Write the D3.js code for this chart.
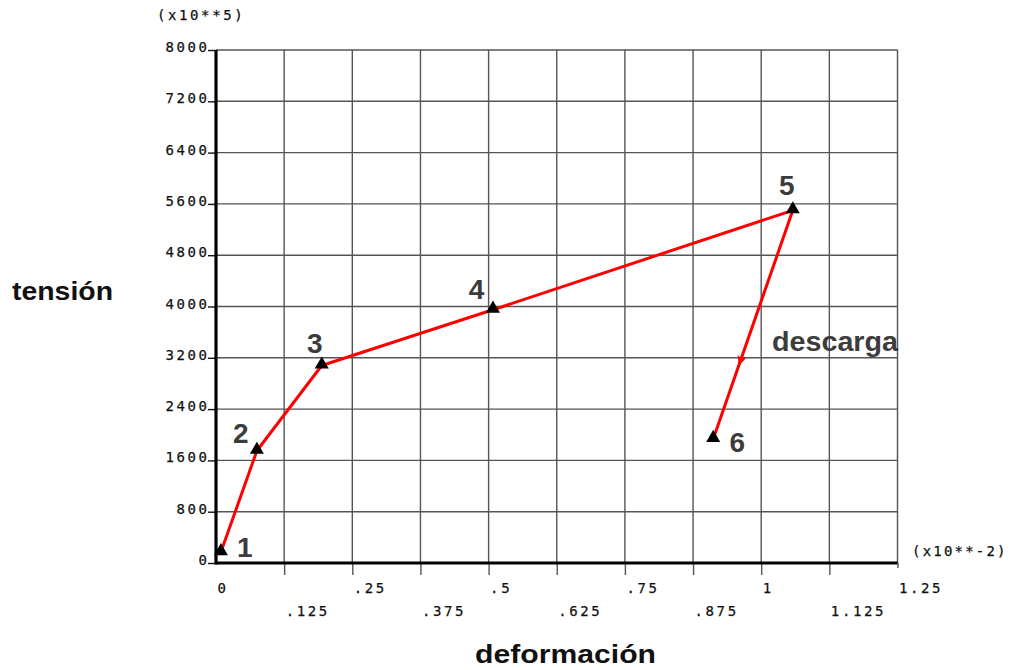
<!DOCTYPE html>
<html>
<head>
<meta charset="utf-8">
<script src="https://cdn.jsdelivr.net/npm/d3@7"></script>
<style>
  html, body { margin: 0; padding: 0; background: #fff; }
  svg { display: block; }
</style>
</head>
<body>
<svg id="chart" width="1015" height="670"></svg>
<script>
// ---- data ----
const xTicks = [0, 0.125, 0.25, 0.375, 0.5, 0.625, 0.75, 0.875, 1, 1.125, 1.25];
const xTickLabels = ["0", ".125", ".25", ".375", ".5", ".625", ".75", ".875", "1", "1.125", "1.25"];
const yTicks = [0, 800, 1600, 2400, 3200, 4000, 4800, 5600, 6400, 7200, 8000];
const yTickLabels = ["0", "800", "1600", "2400", "3200", "4000", "4800", "5600", "6400", "7200", "8000"];
const strain = [0.009, 0.075, 0.194, 0.508, 1.058, 0.912];   // x10**-2
const stress = [170, 1750, 3080, 3950, 5500, 1935];         // x10**5
const pointNames = ["1", "2", "3", "4", "5", "6"];
const xUnit = "(x10**-2)";
const yUnit = "(x10**5)";
const xTitle = "deformación";
const yTitle = "tensión";
const unloadLabel = "descarga";

// ---- layout ----
const svg = d3.select("#chart");
const x = d3.scaleLinear().domain([0, 1.25]).range([216, 897.5]);
const y = d3.scaleLinear().domain([0, 8000]).range([563, 50]);
const monoFont = "DejaVu Sans Mono, monospace";
const monoSize = 14;
const monoSpacing = "2.6px";
const gridColor = "#555";

function monoStyle(sel) {
  sel.attr("font-family", monoFont).attr("font-size", monoSize)
    .attr("letter-spacing", monoSpacing).attr("fill", "#111")
    .attr("stroke", "#111").attr("stroke-width", 0.25);
}

// grid
svg.append("g").selectAll("line.v").data(xTicks.slice(1)).join("line")
  .attr("x1", d => x(d)).attr("x2", d => x(d))
  .attr("y1", y(8000)).attr("y2", y(0))
  .attr("stroke", gridColor).attr("stroke-width", 1.4);
svg.append("g").selectAll("line.h").data(yTicks.slice(1)).join("line")
  .attr("x1", x(0)).attr("x2", x(1.25))
  .attr("y1", d => y(d)).attr("y2", d => y(d))
  .attr("stroke", gridColor).attr("stroke-width", 1.4);

// x axis
const gx = svg.append("g").attr("transform", `translate(0,${y(0)})`)
  .call(d3.axisBottom(x).tickValues(xTicks).tickFormat((d, i) => xTickLabels[i]).tickSize(12).tickSizeOuter(0));
gx.select(".domain").remove();
gx.selectAll(".tick line").attr("stroke", gridColor).attr("stroke-width", 1.4)
  .attr("display", (d, i) => i === 0 ? "none" : null)
  .attr("y2", (d, i) => i === xTicks.length - 1 ? 5 : 12);
gx.selectAll(".tick text")
  .attr("text-anchor", "start").attr("x", 1).attr("dy", 0)
  .attr("y", (d, i) => i % 2 === 0 ? 30 : 53)
  .call(monoStyle);

// y axis
const gy = svg.append("g").attr("transform", `translate(${x(0)},0)`)
  .call(d3.axisLeft(y).tickValues(yTicks).tickFormat((d, i) => yTickLabels[i]).tickSize(8).tickSizeOuter(0));
gy.select(".domain").remove();
gy.selectAll(".tick line").attr("stroke", "#111").attr("stroke-width", 1.4);
gy.selectAll(".tick text")
  .attr("x", -6.5).attr("dy", 0).attr("y", 1.5)
  .call(monoStyle);

// thick axis lines
svg.append("line").attr("x1", x(0)).attr("x2", x(1.25)).attr("y1", y(0)).attr("y2", y(0))
  .attr("stroke", "#000").attr("stroke-width", 3.2);
svg.append("line").attr("x1", x(0)).attr("x2", x(0)).attr("y1", y(8000)).attr("y2", y(0) + 1.6)
  .attr("stroke", "#000").attr("stroke-width", 3.2);

// unit labels
svg.append("text").attr("x", 157).attr("y", 20).text(yUnit).call(monoStyle);
svg.append("text").attr("x", 912).attr("y", 556).text(xUnit).call(monoStyle)
  .attr("letter-spacing", "2.2px");

// data line
const pts = strain.map((s, i) => [s, stress[i]]);
svg.append("path").datum(pts)
  .attr("d", d3.line().x(d => x(d[0])).y(d => y(d[1])))
  .attr("fill", "none").attr("stroke", "#ff0000").attr("stroke-width", 3)
  .attr("stroke-linejoin", "round");

// arrow on unloading segment
{
  const a = pts[4], b = pts[5];
  const t = 0.66;
  const px = x(a[0]) + (x(b[0]) - x(a[0])) * t;
  const py = y(a[1]) + (y(b[1]) - y(a[1])) * t;
  const ang = Math.atan2(y(b[1]) - y(a[1]), x(b[0]) - x(a[0])) * 180 / Math.PI;
  svg.append("path").attr("d", "M5,0 L-5,-4.5 L-3,0 L-5,4.5 Z")
    .attr("transform", `translate(${px},${py}) rotate(${ang})`)
    .attr("fill", "#ff0000");
}

// markers
svg.append("g").selectAll("path").data(pts).join("path")
  .attr("d", d3.symbol(d3.symbolTriangle, 85))
  .attr("transform", d => `translate(${x(d[0])},${y(d[1]) - 1})`)
  .attr("fill", "#000");

// point labels
const labelOffsets = [[24, 5], [-16, -8], [-7, -12], [-16.5, -11], [-6, -15], [24, 13]];
svg.append("g").selectAll("text").data(pts).join("text")
  .attr("x", (d, i) => x(d[0]) + labelOffsets[i][0])
  .attr("y", (d, i) => y(d[1]) + labelOffsets[i][1])
  .attr("text-anchor", "middle")
  .attr("font-family", "Liberation Sans, Arial, sans-serif")
  .attr("font-weight", "bold").attr("font-size", 28).attr("fill", "#3c3c3c")
  .text((d, i) => pointNames[i]);

svg.append("text").attr("x", 772).attr("y", 351).text(unloadLabel)
  .attr("font-family", "Liberation Sans, Arial, sans-serif")
  .attr("font-weight", "bold").attr("font-size", 27).attr("fill", "#3c3c3c")
  .attr("textLength", 126).attr("lengthAdjust", "spacingAndGlyphs");

// titles
svg.append("text").attr("x", 12).attr("y", 300).text(yTitle)
  .attr("font-family", "Liberation Sans, Arial, sans-serif")
  .attr("font-weight", "bold").attr("font-size", 26).attr("fill", "#111")
  .attr("textLength", 101).attr("lengthAdjust", "spacingAndGlyphs");
svg.append("text").attr("x", 475).attr("y", 663).text(xTitle)
  .attr("font-family", "Liberation Sans, Arial, sans-serif")
  .attr("font-weight", "bold").attr("font-size", 25).attr("fill", "#111")
  .attr("textLength", 181).attr("lengthAdjust", "spacingAndGlyphs");
</script>
</body>
</html>
